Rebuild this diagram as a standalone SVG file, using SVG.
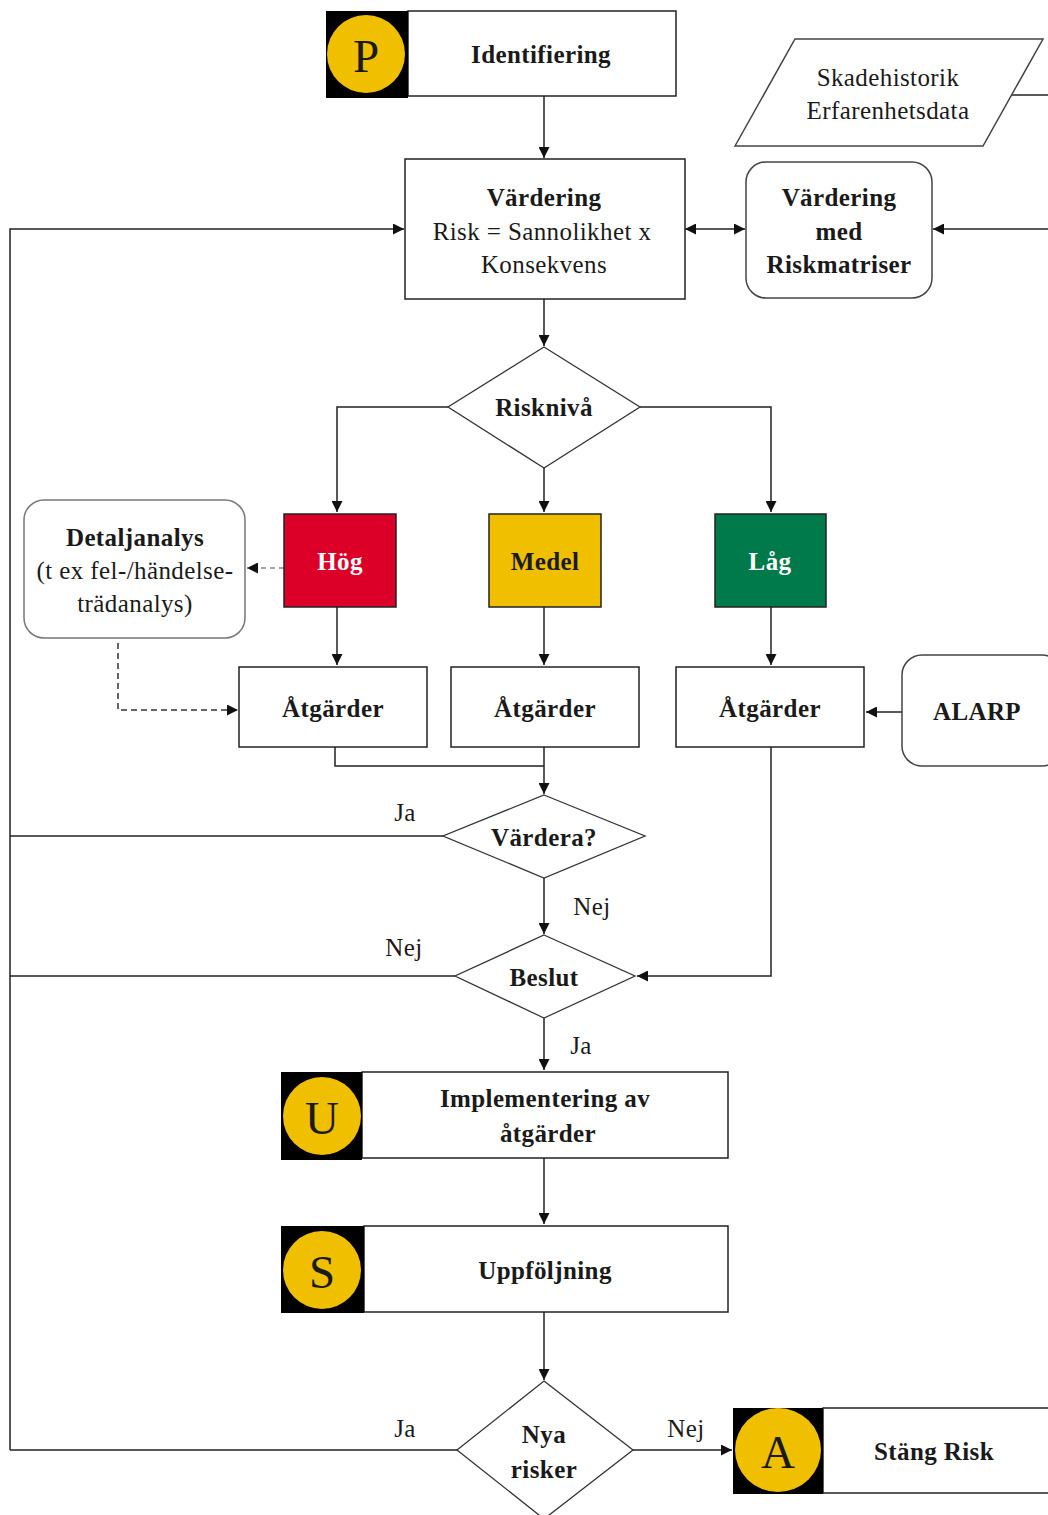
<svg xmlns="http://www.w3.org/2000/svg" width="1048" height="1515" viewBox="0 0 1048 1515">
  <style>
    text { font-family: "Liberation Serif", "DejaVu Serif", serif; fill: #1a1a1a; text-anchor: middle; dominant-baseline: central; }
    .lbl { font-size: 25px; letter-spacing: 0.4px; }
    .b { font-weight: bold; }
    .w { fill: #ffffff; }
    .box { fill: #ffffff; stroke: #222; stroke-width: 1.5; }
    .soft { fill: #ffffff; stroke: #444; stroke-width: 1.5; }
    .dia { fill: #ffffff; stroke: #333; stroke-width: 1.3; }
    .line { fill: none; stroke: #222; stroke-width: 1.5; }
    .arr { fill: none; stroke: #222; stroke-width: 1.5; marker-end: url(#ah); }
    .dash { fill: none; stroke: #333; stroke-width: 1.5; stroke-dasharray: 6 4; marker-end: url(#ah); }
    .dashg { fill: none; stroke: #888; stroke-width: 1.5; stroke-dasharray: 5 4; marker-end: url(#ah); }
    .badge { fill: #000; }
    .coin { fill: #f0bf00; }
    .big { font-size: 47px; }
  </style>
  <defs>
    <marker id="ah" viewBox="0 0 10 10" refX="10" refY="5" markerWidth="11" markerHeight="11" markerUnits="userSpaceOnUse" orient="auto-start-reverse">
      <path d="M0,0 L10,5 L0,10 z" fill="#111"/>
    </marker>
  </defs>

  <!-- connectors -->
  <g id="connectors">
    <path class="arr" d="M544,96 V158"/>
    <path class="arr" d="M685,229 H745" marker-start="url(#ah)"/>
    <path class="arr" d="M1048,229 H933"/>
    <path class="line" d="M1008,95 H1048"/>
    <path class="arr" d="M10,1450 V229 H404"/>
    <path class="arr" d="M544,299 V346"/>
    <path class="arr" d="M448,407 H337 V512"/>
    <path class="arr" d="M640,407 H771 V512"/>
    <path class="arr" d="M544,468 V512"/>
    <path class="dashg" d="M284,568 H247"/>
    <path class="dash" d="M118,643 V710 H238"/>
    <path class="arr" d="M337,607 V665"/>
    <path class="arr" d="M544,607 V665"/>
    <path class="arr" d="M771,607 V665"/>
    <path class="arr" d="M902,712 H866"/>
    <path class="line" d="M335,747 V766 H544"/>
    <path class="arr" d="M544,747 V794"/>
    <path class="line" d="M443,836 H10"/>
    <path class="arr" d="M544,878 V934"/>
    <path class="line" d="M455,976 H10"/>
    <path class="arr" d="M771,747 V976 H637"/>
    <path class="arr" d="M544,1018 V1070"/>
    <path class="arr" d="M544,1158 V1224"/>
    <path class="arr" d="M544,1312 V1380"/>
    <path class="line" d="M457,1450 H10"/>
    <path class="arr" d="M633,1450 H732"/>
    <text class="lbl" x="405" y="812">Ja</text>
    <text class="lbl" x="592" y="906">Nej</text>
    <text class="lbl" x="404" y="947">Nej</text>
    <text class="lbl" x="581" y="1045">Ja</text>
    <text class="lbl" x="405" y="1428">Ja</text>
    <text class="lbl" x="686" y="1428">Nej</text>
  </g>

  <g id="identifiering">
    <rect class="box" x="408" y="11" width="268" height="85"/>
    <rect class="badge" x="326" y="11" width="82" height="87"/>
    <circle class="coin" cx="366" cy="54" r="39"/>
    <text class="big" x="366" y="56">P</text>
    <text class="lbl b" x="541" y="54">Identifiering</text>
  </g>

  <g id="skadehistorik">
    <polygon class="soft" points="735,146 795,39 1043,39 983,146"/>
    <text class="lbl" x="888" y="77">Skadehistorik</text>
    <text class="lbl" x="888" y="110">Erfarenhetsdata</text>
  </g>

  <g id="vardering">
    <rect class="box" x="405" y="159" width="280" height="140"/>
    <text class="lbl b" x="544" y="197">Värdering</text>
    <text class="lbl" x="542" y="231">Risk = Sannolikhet x</text>
    <text class="lbl" x="544" y="264">Konsekvens</text>
  </g>

  <g id="riskmatriser">
    <rect class="soft" x="746" y="162" width="186" height="136" rx="20"/>
    <text class="lbl b" x="839" y="197">Värdering</text>
    <text class="lbl b" x="839" y="231">med</text>
    <text class="lbl b" x="839" y="264">Riskmatriser</text>
  </g>

  <g id="riskniva">
    <polygon class="dia" points="544,347 640,407 544,468 448,407"/>
    <text class="lbl b" x="544" y="407">Risknivå</text>
  </g>

  <g id="hog">
    <rect x="284" y="514" width="112" height="93" fill="#dc0028" stroke="#222" stroke-width="1.5"/>
    <text class="lbl b w" x="340" y="561">Hög</text>
  </g>
  <g id="medel">
    <rect x="489" y="514" width="112" height="93" fill="#f0bf00" stroke="#222" stroke-width="1.5"/>
    <text class="lbl b" x="545" y="561">Medel</text>
  </g>
  <g id="lag">
    <rect x="715" y="514" width="111" height="93" fill="#007a4a" stroke="#222" stroke-width="1.5"/>
    <text class="lbl b w" x="770" y="561">Låg</text>
  </g>

  <g id="detaljanalys">
    <rect x="24" y="500" width="221" height="138" rx="20" fill="#fff" stroke="#777" stroke-width="1.5"/>
    <text class="lbl b" x="135" y="537">Detaljanalys</text>
    <text class="lbl" x="135" y="570">(t ex fel-/händelse-</text>
    <text class="lbl" x="135" y="603">trädanalys)</text>
  </g>

  <g id="atgarder-hog">
    <rect class="box" x="239" y="667" width="188" height="80"/>
    <text class="lbl b" x="333" y="708">Åtgärder</text>
  </g>
  <g id="atgarder-medel">
    <rect class="box" x="451" y="667" width="188" height="80"/>
    <text class="lbl b" x="545" y="708">Åtgärder</text>
  </g>
  <g id="atgarder-lag">
    <rect class="box" x="676" y="667" width="188" height="80"/>
    <text class="lbl b" x="770" y="708">Åtgärder</text>
  </g>

  <g id="alarp">
    <rect class="soft" x="902" y="655" width="160" height="111" rx="20"/>
    <text class="lbl b" x="977" y="711">ALARP</text>
  </g>

  <g id="vardera">
    <polygon class="dia" points="544,795 645,836 544,878 443,836"/>
    <text class="lbl b" x="544" y="837">Värdera?</text>
  </g>

  <g id="beslut">
    <polygon class="dia" points="544,935 635,976 544,1018 455,976"/>
    <text class="lbl b" x="544" y="977">Beslut</text>
  </g>

  <g id="implementering">
    <rect class="box" x="362" y="1072" width="366" height="86"/>
    <rect class="badge" x="281" y="1072" width="81" height="88"/>
    <circle class="coin" cx="322" cy="1116" r="39"/>
    <text class="big" x="322" y="1118">U</text>
    <text class="lbl b" x="545" y="1098">Implementering av</text>
    <text class="lbl b" x="548" y="1133">åtgärder</text>
  </g>

  <g id="uppfoljning">
    <rect class="box" x="364" y="1226" width="364" height="86"/>
    <rect class="badge" x="281" y="1226" width="83" height="87"/>
    <circle class="coin" cx="322" cy="1270" r="39"/>
    <text class="big" x="322" y="1272">S</text>
    <text class="lbl b" x="545" y="1270">Uppföljning</text>
  </g>

  <g id="nya-risker">
    <polygon class="dia" points="544,1381 633,1450 544,1519 457,1450"/>
    <text class="lbl b" x="544" y="1434">Nya</text>
    <text class="lbl b" x="544" y="1469">risker</text>
  </g>

  <g id="stang-risk">
    <rect class="box" x="823" y="1408" width="240" height="85"/>
    <rect class="badge" x="733" y="1408" width="90" height="86"/>
    <ellipse class="coin" cx="778" cy="1450" rx="43" ry="42"/>
    <text class="big" x="778" y="1452">A</text>
    <text class="lbl b" x="934" y="1451">Stäng Risk</text>
  </g>
</svg>
